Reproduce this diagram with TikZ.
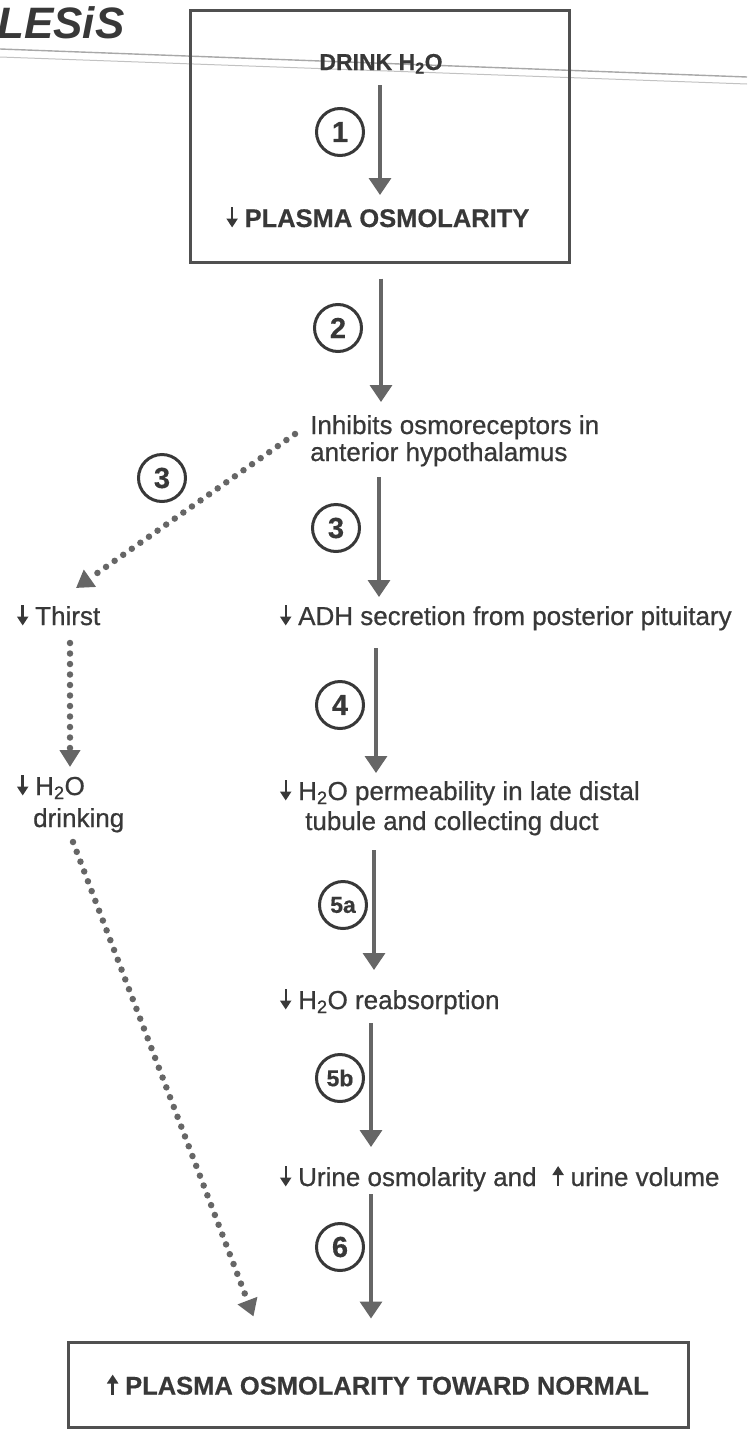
\documentclass[tikz,border=0pt]{standalone}
\usepackage{fontspec}
\setmainfont{Liberation Sans}
\newfontfamily\scan{Liberation Sans}[FakeBold=0.7, BoldFeatures={FakeBold=0.5}]
\usetikzlibrary{arrows.meta,calc}
\definecolor{ink}{HTML}{383838}
\definecolor{arrowc}{HTML}{666666}
\definecolor{boxc}{HTML}{505050}
\definecolor{rulec}{HTML}{A8A8A8}
\newcommand{\hto}{H\textsubscript{2}O}
\newcommand{\dn}{\tikz[baseline=0pt]\draw[ink, line width=2.4pt, -{Triangle[width=11pt,length=9pt]}] (0pt,20pt) -- (0pt,-0.5pt);\hspace{7pt}}
\newcommand{\upa}{\tikz[baseline=0pt]\draw[ink, line width=2.4pt, -{Triangle[width=11pt,length=9pt]}] (0pt,0pt) -- (0pt,20pt);\hspace{7pt}}
\begin{document}
\begin{tikzpicture}[x=1pt,y=-1pt,
  txt/.style={inner sep=0pt, text=ink, font=\scan\fontsize{26}{27}\selectfont, anchor=base west},
  btxt/.style={inner sep=0pt, text=ink, font=\scan\fontsize{25.5}{27}\selectfont\bfseries},
  flowarrow/.style={draw=arrowc, line width=3.5pt, -{Triangle[width=22pt,length=17pt]}},
  dotarrow/.style={draw=arrowc, line width=6.5pt, line cap=round, dash pattern=on 0pt off 10.5pt, -{Triangle[width=20pt,length=17pt]}},
  stepnum/.style={circle, draw=ink, line width=3pt, minimum size=47pt, inner sep=0pt, text=ink, font=\scan\fontsize{29}{29}\selectfont\bfseries},
  frame/.style={draw=boxc, line width=3pt, inner sep=0pt}]
\useasboundingbox (0,0) rectangle (747,1432);
% scanned page rule and heading fragment
\draw[rulec, line width=1.4pt] (0,49) -- (747,77);
\draw[rulec!70, line width=1pt] (0,57) -- (747,84);
\node[inner sep=0pt, text=ink, font=\fontsize{44}{44}\selectfont\bfseries\itshape, anchor=base west] (title) at (-3,38) {LESiS};
% top box
\node[frame, minimum width=379pt, minimum height=252pt] (topbox) at (379.5,136) {};
\node[btxt, anchor=base, font=\scan\fontsize{23}{25}\selectfont\bfseries] (drink) at (381,70) {DRINK \hto};
\node[btxt, anchor=base] (plasma) at (378,227) {\dn PLASMA OSMOLARITY};
% right column
\node[txt] (inh1) at (310,434) {Inhibits osmoreceptors in};
\node[txt] (inh2) at ($(inh1.base west)+(0,27)$) {anterior hypothalamus};
\node[txt] (adh) at (280,625) {\dn ADH secretion from posterior pituitary};
\node[txt] (perm1) at (280,800) {\dn \hto{} permeability in late distal};
\node[txt] (perm2) at (305,830) {tubule and collecting duct};
\node[txt] (reabs) at (280,1009) {\dn \hto{} reabsorption};
\node[txt] (urine) at (280,1186) {\dn Urine osmolarity and\hspace{16pt}\upa urine volume};
% left column
\node[txt] (thirst) at (17,625) {\dn Thirst};
\node[txt] (drk1) at (17,795) {\dn \hto};
\node[txt] (drk2) at (33,827) {drinking};
% bottom box
\node[frame, btxt, minimum width=620pt, minimum height=85pt] (botbox) at (378,1384.5) {\upa PLASMA OSMOLARITY TOWARD NORMAL};
% column coordinates
\coordinate (c1) at (380,0);
\coordinate (c2) at (381,0);
\coordinate (c3) at (379,0);
\coordinate (c4) at (376,0);
\coordinate (c5) at (374,0);
\coordinate (c6) at (371,0);
% main arrows
\draw[flowarrow, shorten <=15pt, shorten >=32pt] (drink.base -| c1) -- (plasma.base -| c1);
\draw[flowarrow, shorten <=15pt, shorten >=32pt] (topbox.south -| c2) -- (inh1.base -| c2);
\draw[flowarrow, shorten <=16pt, shorten >=28pt] (inh2.base -| c3) -- (adh.base -| c3);
\draw[flowarrow, shorten <=23pt, shorten >=27pt] (adh.base -| c4) -- (perm1.base -| c4);
\draw[flowarrow, shorten <=20pt, shorten >=39pt] (perm2.base -| c5) -- (reabs.base -| c5);
\draw[flowarrow, shorten <=14pt, shorten >=39pt] (reabs.base -| c6) -- (urine.base -| c6);
\draw[flowarrow, shorten <=8pt, shorten >=22pt] (urine.base -| c6) -- (botbox.north -| c6);
% dotted arrows
\draw[dotarrow] ($(inh1.base west)+(-15,0)$) -- ($(thirst.base west)+(59,-37)$);
\draw[dotarrow] ($(thirst.base west)+(53,18)$) -- ($(drk1.base west)+(53,-28)$);
\draw[dotarrow] ($(drk2.base west)+(40,15)$) -- ($(botbox.north west)+(187,-24)$);
% step numbers
\node[stepnum] (n1) at (340,132) {1};
\node[stepnum] (n2) at (338,328) {2};
\node[stepnum] (n3a) at (162,478) {3};
\node[stepnum] (n3b) at (336,528) {3};
\node[stepnum] (n4) at (340,705) {4};
\node[stepnum, font=\scan\fontsize{23}{23}\selectfont\bfseries] (n5a) at (343,905) {5a};
\node[stepnum, font=\scan\fontsize{23}{23}\selectfont\bfseries] (n5b) at (340,1078) {5b};
\node[stepnum] (n6) at (340,1247) {6};
\end{tikzpicture}
\end{document}
